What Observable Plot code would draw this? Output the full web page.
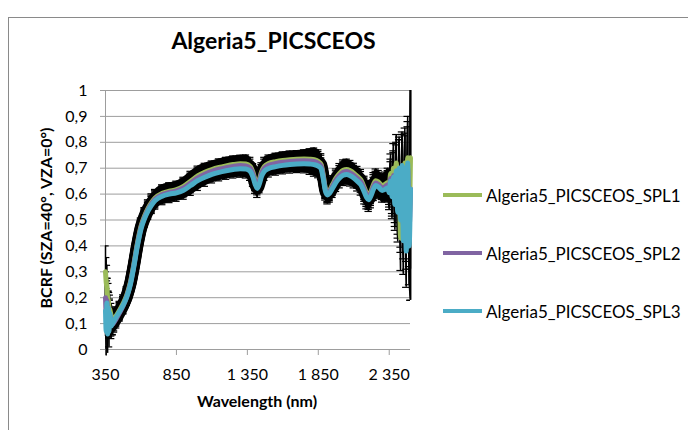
<!DOCTYPE html>
<html><head><meta charset="utf-8">
<script src="https://cdn.jsdelivr.net/npm/d3@7"></script>
<script src="https://cdn.jsdelivr.net/npm/@observablehq/plot@0.6"></script>
<style>
body{margin:0;background:#fff;}
#wrap{position:relative;width:688px;height:430px;overflow:hidden;font-family:Lato,sans-serif;color:#000;background:#fff;}
#frame{position:absolute;left:8px;top:17px;width:800px;height:600px;border:1px solid #8a8a8a;box-sizing:border-box;}
#wrap svg{position:absolute;left:0;top:0;}
</style></head><body><div id="wrap"><div id="frame"></div></div>
<script>
const title = "Algeria5_PICSCEOS";
const xTitle = "Wavelength (nm)";
const yTitle = "BCRF (SZA=40°, VZA=0°)";
const names = ["Algeria5_PICSCEOS_SPL1", "Algeria5_PICSCEOS_SPL2", "Algeria5_PICSCEOS_SPL3"];
const colors = ["#9BBB59", "#8064A2", "#4BACC6"];
const xTicks = [350, 850, 1350, 1850, 2350];
const xTickLabels = ["350", "850", "1 350", "1 850", "2 350"];
const yTicks = [0, 0.1, 0.2, 0.3, 0.4, 0.5, 0.6, 0.7, 0.8, 0.9, 1];
const yTickLabels = ["0", "0,1", "0,2", "0,3", "0,4", "0,5", "0,6", "0,7", "0,8", "0,9", "1"];

const wavelength = [350,355,360,365,370,375,380,390,400,410,425,450,475,500,525,550,575,600,625,650,675,700,750,800,850,900,950,1000,1050,1100,1150,1200,1250,1300,1340,1370,1390,1405,1420,1435,1450,1470,1500,1550,1600,1650,1700,1750,1790,1820,1850,1870,1885,1900,1915,1930,1950,1975,2000,2025,2050,2075,2100,2125,2150,2175,2190,2205,2220,2240,2255,2275,2300,2320,2340,2350,2360,2370,2380,2390,2400,2410,2420,2430,2440,2450,2460,2470,2480,2490,2500];

const spl1 = [0.30,0.26,0.24,0.20,0.19,0.16,0.155,0.13,0.118,0.118,0.13,0.153,0.178,0.21,0.258,0.33,0.41,0.475,0.515,0.545,0.568,0.585,0.603,0.611,0.617,0.630,0.650,0.670,0.684,0.695,0.703,0.709,0.714,0.717,0.716,0.707,0.683,0.655,0.638,0.657,0.686,0.707,0.718,0.725,0.730,0.733,0.735,0.736,0.735,0.733,0.726,0.714,0.673,0.622,0.606,0.615,0.636,0.662,0.680,0.692,0.695,0.690,0.681,0.669,0.655,0.624,0.604,0.592,0.608,0.638,0.652,0.646,0.633,0.637,0.645,0.625,0.680,0.610,0.700,0.590,0.720,0.560,0.690,0.430,0.700,0.550,0.720,0.480,0.740,0.500,0.740];

const spl2 = [0.20,0.14,0.19,0.12,0.16,0.11,0.135,0.10,0.098,0.105,0.118,0.143,0.17,0.205,0.254,0.325,0.405,0.47,0.51,0.54,0.563,0.58,0.598,0.606,0.612,0.624,0.643,0.663,0.677,0.688,0.696,0.702,0.707,0.710,0.709,0.700,0.676,0.648,0.632,0.650,0.679,0.700,0.711,0.718,0.723,0.726,0.728,0.729,0.728,0.726,0.719,0.708,0.668,0.618,0.602,0.610,0.630,0.655,0.672,0.684,0.687,0.682,0.673,0.661,0.647,0.617,0.597,0.586,0.601,0.630,0.643,0.637,0.624,0.628,0.636,0.615,0.660,0.600,0.672,0.575,0.680,0.545,0.690,0.520,0.700,0.480,0.690,0.450,0.700,0.470,0.620];

const spl3 = [0.15,0.07,0.18,0.06,0.16,0.07,0.14,0.09,0.10,0.11,0.125,0.148,0.172,0.203,0.25,0.32,0.40,0.465,0.505,0.535,0.558,0.575,0.592,0.600,0.605,0.615,0.633,0.652,0.665,0.676,0.684,0.690,0.695,0.698,0.697,0.688,0.665,0.638,0.622,0.640,0.668,0.688,0.699,0.706,0.711,0.714,0.716,0.717,0.716,0.714,0.708,0.698,0.660,0.612,0.597,0.604,0.622,0.645,0.662,0.673,0.676,0.671,0.662,0.650,0.636,0.607,0.588,0.578,0.592,0.620,0.633,0.627,0.614,0.618,0.625,0.605,0.650,0.590,0.665,0.560,0.690,0.530,0.700,0.500,0.710,0.420,0.700,0.380,0.720,0.400,0.620];

const errorBar = [0.10,0.095,0.085,0.075,0.065,0.06,0.055,0.048,0.042,0.038,0.035,0.033,0.033,0.033,0.033,0.033,0.033,0.033,0.033,0.033,0.033,0.033,0.033,0.033,0.033,0.035,0.038,0.038,0.035,0.033,0.033,0.033,0.033,0.033,0.035,0.035,0.035,0.035,0.035,0.035,0.035,0.035,0.033,0.033,0.033,0.033,0.033,0.035,0.04,0.045,0.045,0.042,0.038,0.035,0.035,0.035,0.035,0.035,0.038,0.04,0.04,0.04,0.038,0.038,0.04,0.045,0.045,0.045,0.045,0.045,0.045,0.045,0.045,0.048,0.055,0.065,0.075,0.085,0.095,0.10,0.11,0.115,0.12,0.125,0.13,0.13,0.135,0.14,0.16,0.15,0.43];

const seriesValues = [spl1, spl2, spl3];
const rows = [];
names.forEach((name, k) => {
  wavelength.forEach((w, i) => rows.push({series: name, w, v: seriesValues[k][i], e: errorBar[i]}));
});
const inTop = rows.filter(d => d.v + d.e <= 1);
const smooth = rows.filter(d => d.w >= 385 && d.w <= 2340);

const gray = "#9d9d9d";
const chart = Plot.plot({
  width: 688, height: 430,
  marginLeft: 105, marginRight: 278, marginTop: 90, marginBottom: 81,
  style: {fontFamily: "Lato, sans-serif", fontSize: "16px", background: "transparent", color: "black"},
  x: {domain: [350, 2500]},
  y: {domain: [0, 1]},
  color: {domain: names, range: colors},
  marks: [
    Plot.gridY(yTicks, {stroke: gray, strokeOpacity: 1}),
    Plot.ruleX([350], {stroke: gray}),
    Plot.axisX(xTicks, {tickFormat: d => xTickLabels[xTicks.indexOf(d)], tickSize: 6, tickPadding: 13, stroke: gray, fill: "black", label: null}),
    Plot.axisY(yTicks, {tickFormat: d => yTickLabels[yTicks.indexOf(d)], tickSize: 5, tickPadding: 13, stroke: gray, fill: "black", label: null}),
    Plot.areaY(rows, {x: "w", y1: d => d.v - d.e, y2: d => d.v + d.e, z: "series", fill: "black", curve: "monotone-x", clip: true}),
    Plot.ruleX(rows, {x: "w", y1: d => d.v - d.e, y2: d => Math.min(1, d.v + d.e), stroke: "black", strokeWidth: 1.5}),
    Plot.ruleY(inTop, {y: d => d.v + d.e, x1: d => d.w - 26, x2: d => d.w + 26, stroke: "black", strokeWidth: 1.2, clip: true}),
    Plot.ruleY(rows, {y: d => d.v - d.e, x1: d => d.w - 26, x2: d => d.w + 26, stroke: "black", strokeWidth: 1.2, clip: true}),
    Plot.lineY(smooth, {x: "w", y: "v", z: "series", stroke: "black", strokeWidth: 12, curve: "monotone-x", strokeLinejoin: "round"}),
    Plot.lineY(rows, {x: "w", y: "v", z: "series", stroke: "series", strokeWidth: 5, curve: "monotone-x"})
  ]
});
const wrap = document.getElementById("wrap");
wrap.appendChild(chart);

// text overlay
const ov = d3.select(wrap).append("svg").attr("width", 688).attr("height", 430)
  .style("font-family", "Lato, sans-serif");
ov.append("text").attr("x", 273.5).attr("y", 49).attr("text-anchor", "middle")
  .attr("font-size", 23).attr("font-weight", "bold").text(title);
ov.append("text").attr("x", 257).attr("y", 406.5).attr("text-anchor", "middle")
  .attr("font-size", 16).attr("font-weight", "bold").text(xTitle);
ov.append("text").attr("transform", "translate(52,218) rotate(-90)").attr("text-anchor", "middle")
  .attr("font-size", 16).attr("font-weight", "bold").text(yTitle);
const legY = [195, 253, 311];
names.forEach((n, i) => {
  ov.append("line").attr("x1", 443).attr("x2", 482).attr("y1", legY[i]).attr("y2", legY[i])
    .attr("stroke", colors[i]).attr("stroke-width", 4);
  ov.append("text").attr("x", 486).attr("y", legY[i] + 6.5).attr("font-size", 17).text(n);
});
</script>
</body></html>
